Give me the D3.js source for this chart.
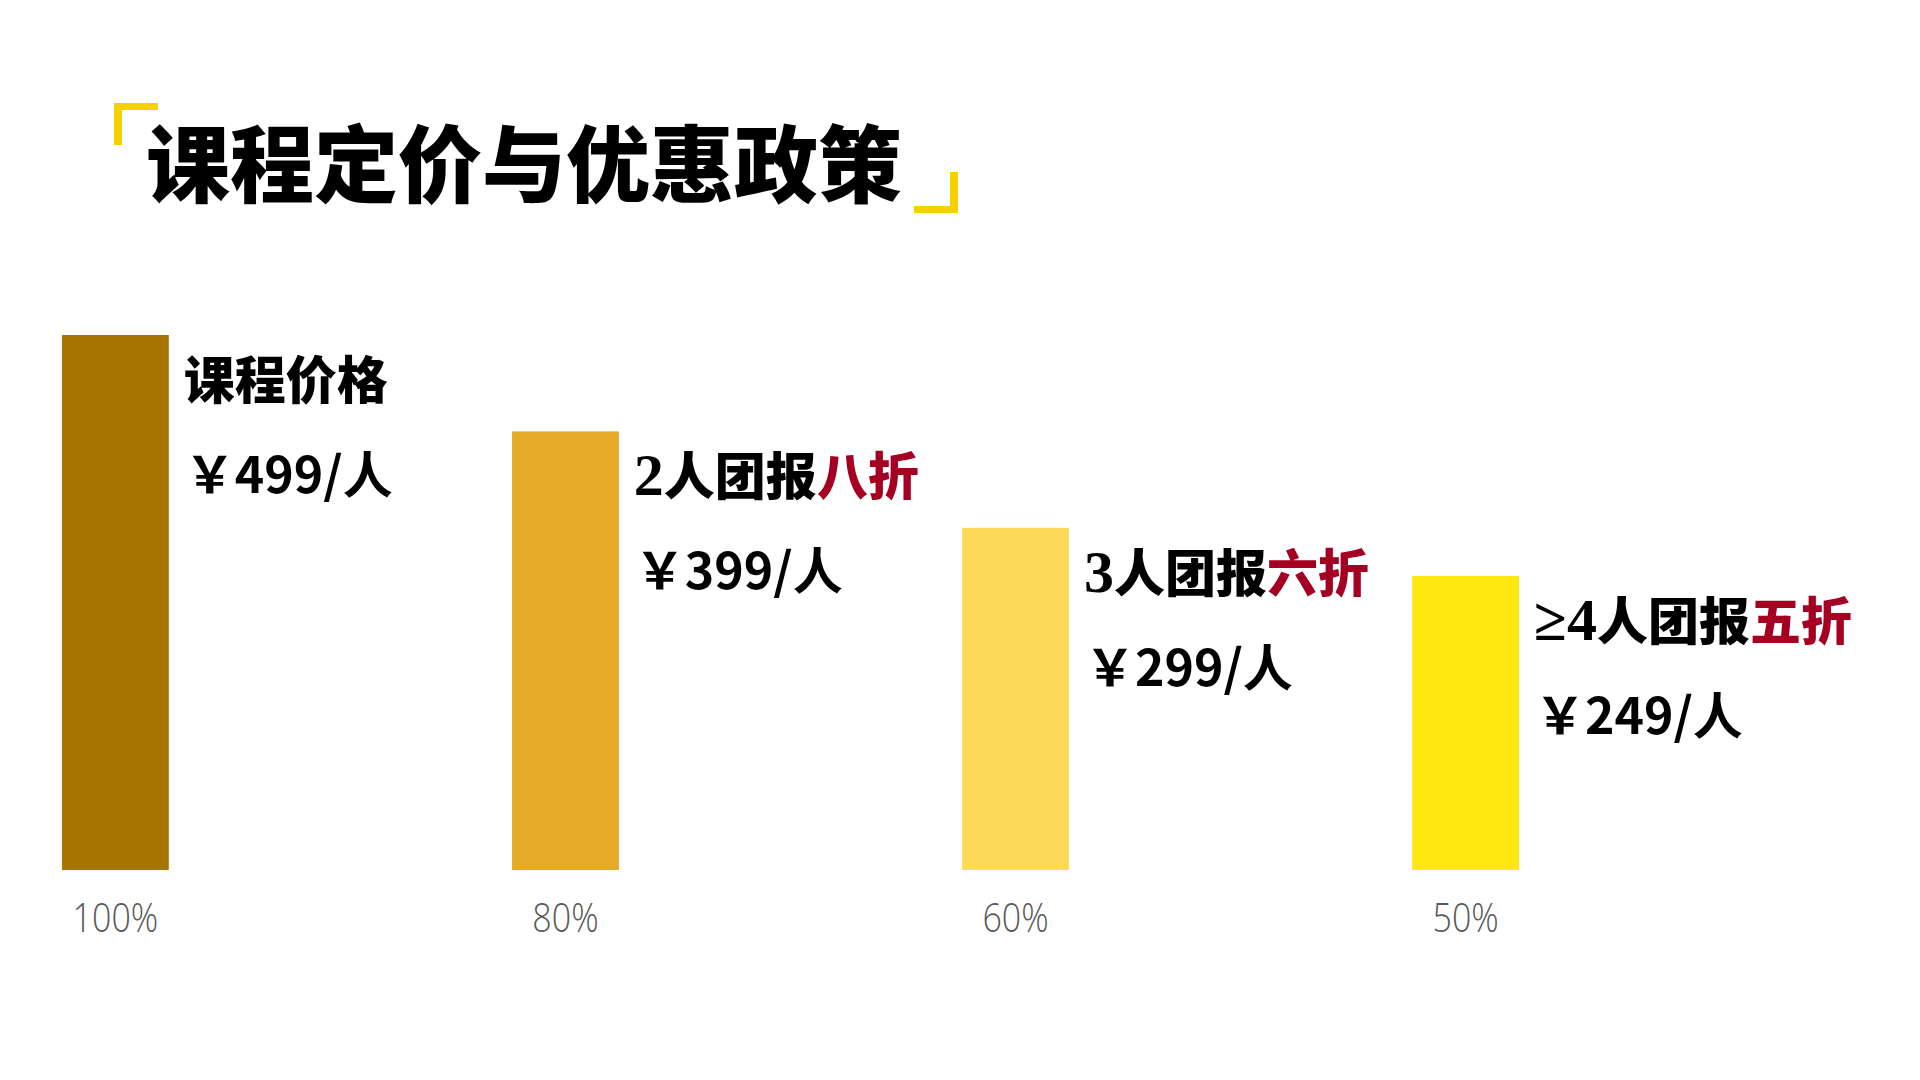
<!DOCTYPE html>
<html>
<head>
<meta charset="utf-8">
<script src="https://cdn.jsdelivr.net/npm/d3@7/dist/d3.min.js"></script>
<style>
  html, body { margin: 0; padding: 0; background: #ffffff; }
  svg { display: block; }
</style>
</head>
<body>
<svg id="chart" width="1920" height="1080"></svg>
<script>
// ---- data ----
const title = "课程定价与优惠政策";
const categories = ["原价", "2人团", "3人团", "4人团"];
const discountPct = [100, 80, 60, 50];
const tickLabels = ["100%", "80%", "60%", "50%"];
const groupLabels = ["课程价格", "2人团报", "3人团报", "≥4人团报"];
const discountLabels = ["", "八折", "六折", "五折"];
const prices = [499, 399, 299, 249];
const barColors = ["#A87600", "#E5AA28", "#FDD95A", "#FFE711"];

// ---- drawing ----
const svg = d3.select("#chart");
const W = 1920, H = 1080;
svg.append("rect").attr("width", W).attr("height", H).attr("fill", "#ffffff");

const baseY = 870, topY = 335;
const x = d3.scaleBand().domain(categories).range([62, 1519]).paddingInner(0.7627).paddingOuter(0);
const y = d3.scaleLinear().domain([-11, 100]).range([baseY, topY]);

// title brackets
const accent = "#F7D000";
svg.append("path")
  .attr("d", "M114,103 H158 V110 H122 V145 H114 Z")
  .attr("fill", accent);
svg.append("path")
  .attr("d", "M958,213 H914 V206 H950 V172 H958 Z")
  .attr("fill", accent);

// title
svg.append("text")
  .attr("x", 146).attr("y", 196)
  .attr("font-family", "'Noto Sans CJK SC', sans-serif")
  .attr("font-weight", 900)
  .attr("font-size", 84)
  .attr("fill", "#000000")
  .text(title);

const data = categories.map((c, i) => {
  const m = groupLabels[i].match(/^([^\u4e00-\u9fff]*)(.*)$/);
  return {
    cat: c, v: discountPct[i], tick: tickLabels[i],
    lead: m[1], label: m[2],
    disc: discountLabels[i], price: prices[i], color: barColors[i]
  };
});

// bars
svg.append("g").selectAll("rect").data(data).join("rect")
  .attr("x", d => x(d.cat))
  .attr("y", d => y(d.v))
  .attr("width", x.bandwidth())
  .attr("height", d => y(-11) - y(d.v))
  .attr("fill", d => d.color);

// group labels
const lbl = svg.append("g").selectAll("text").data(data).join("text")
  .attr("x", d => x(d.cat) + x.bandwidth() + 15)
  .attr("y", d => y(d.v) + 64)
  .attr("font-family", "'Noto Sans CJK SC', sans-serif")
  .attr("font-weight", 900)
  .attr("font-size", 51)
  .attr("fill", "#000000");
lbl.append("tspan")
  .attr("font-family", "'Liberation Serif', 'DejaVu Serif', serif")
  .attr("font-weight", 700)
  .attr("font-size", 60)
  .text(d => d.lead);
lbl.append("tspan").text(d => d.label);
lbl.append("tspan").attr("fill", "#A50021").text(d => d.disc);

// price labels
svg.append("g").selectAll("text").data(data).join("text")
  .attr("x", d => x(d.cat) + x.bandwidth() + 16)
  .attr("y", d => y(d.v) + 158)
  .attr("font-family", "'Noto Sans CJK SC', sans-serif")
  .attr("font-weight", 700)
  .attr("font-size", 50)
  .attr("fill", "#000000")
  .text(d => "￥" + d.price + "/人");

// x axis tick labels
const axis = d3.axisBottom(x).tickSize(0).tickPadding(0).tickFormat((c, i) => tickLabels[i]);
const ag = svg.append("g").attr("transform", `translate(0,${baseY})`).call(axis);
ag.select(".domain").remove();
ag.selectAll(".tick text")
  .attr("y", 62)
  .attr("dy", 0)
  .attr("font-family", "'Open Sans', 'Noto Sans', sans-serif")
  .attr("font-weight", 300)
  .attr("font-size", 40)
  .attr("fill", "#595959")
  .attr("transform", "scale(0.85,1)")
  .attr("x", 0);
</script>
</body>
</html>
